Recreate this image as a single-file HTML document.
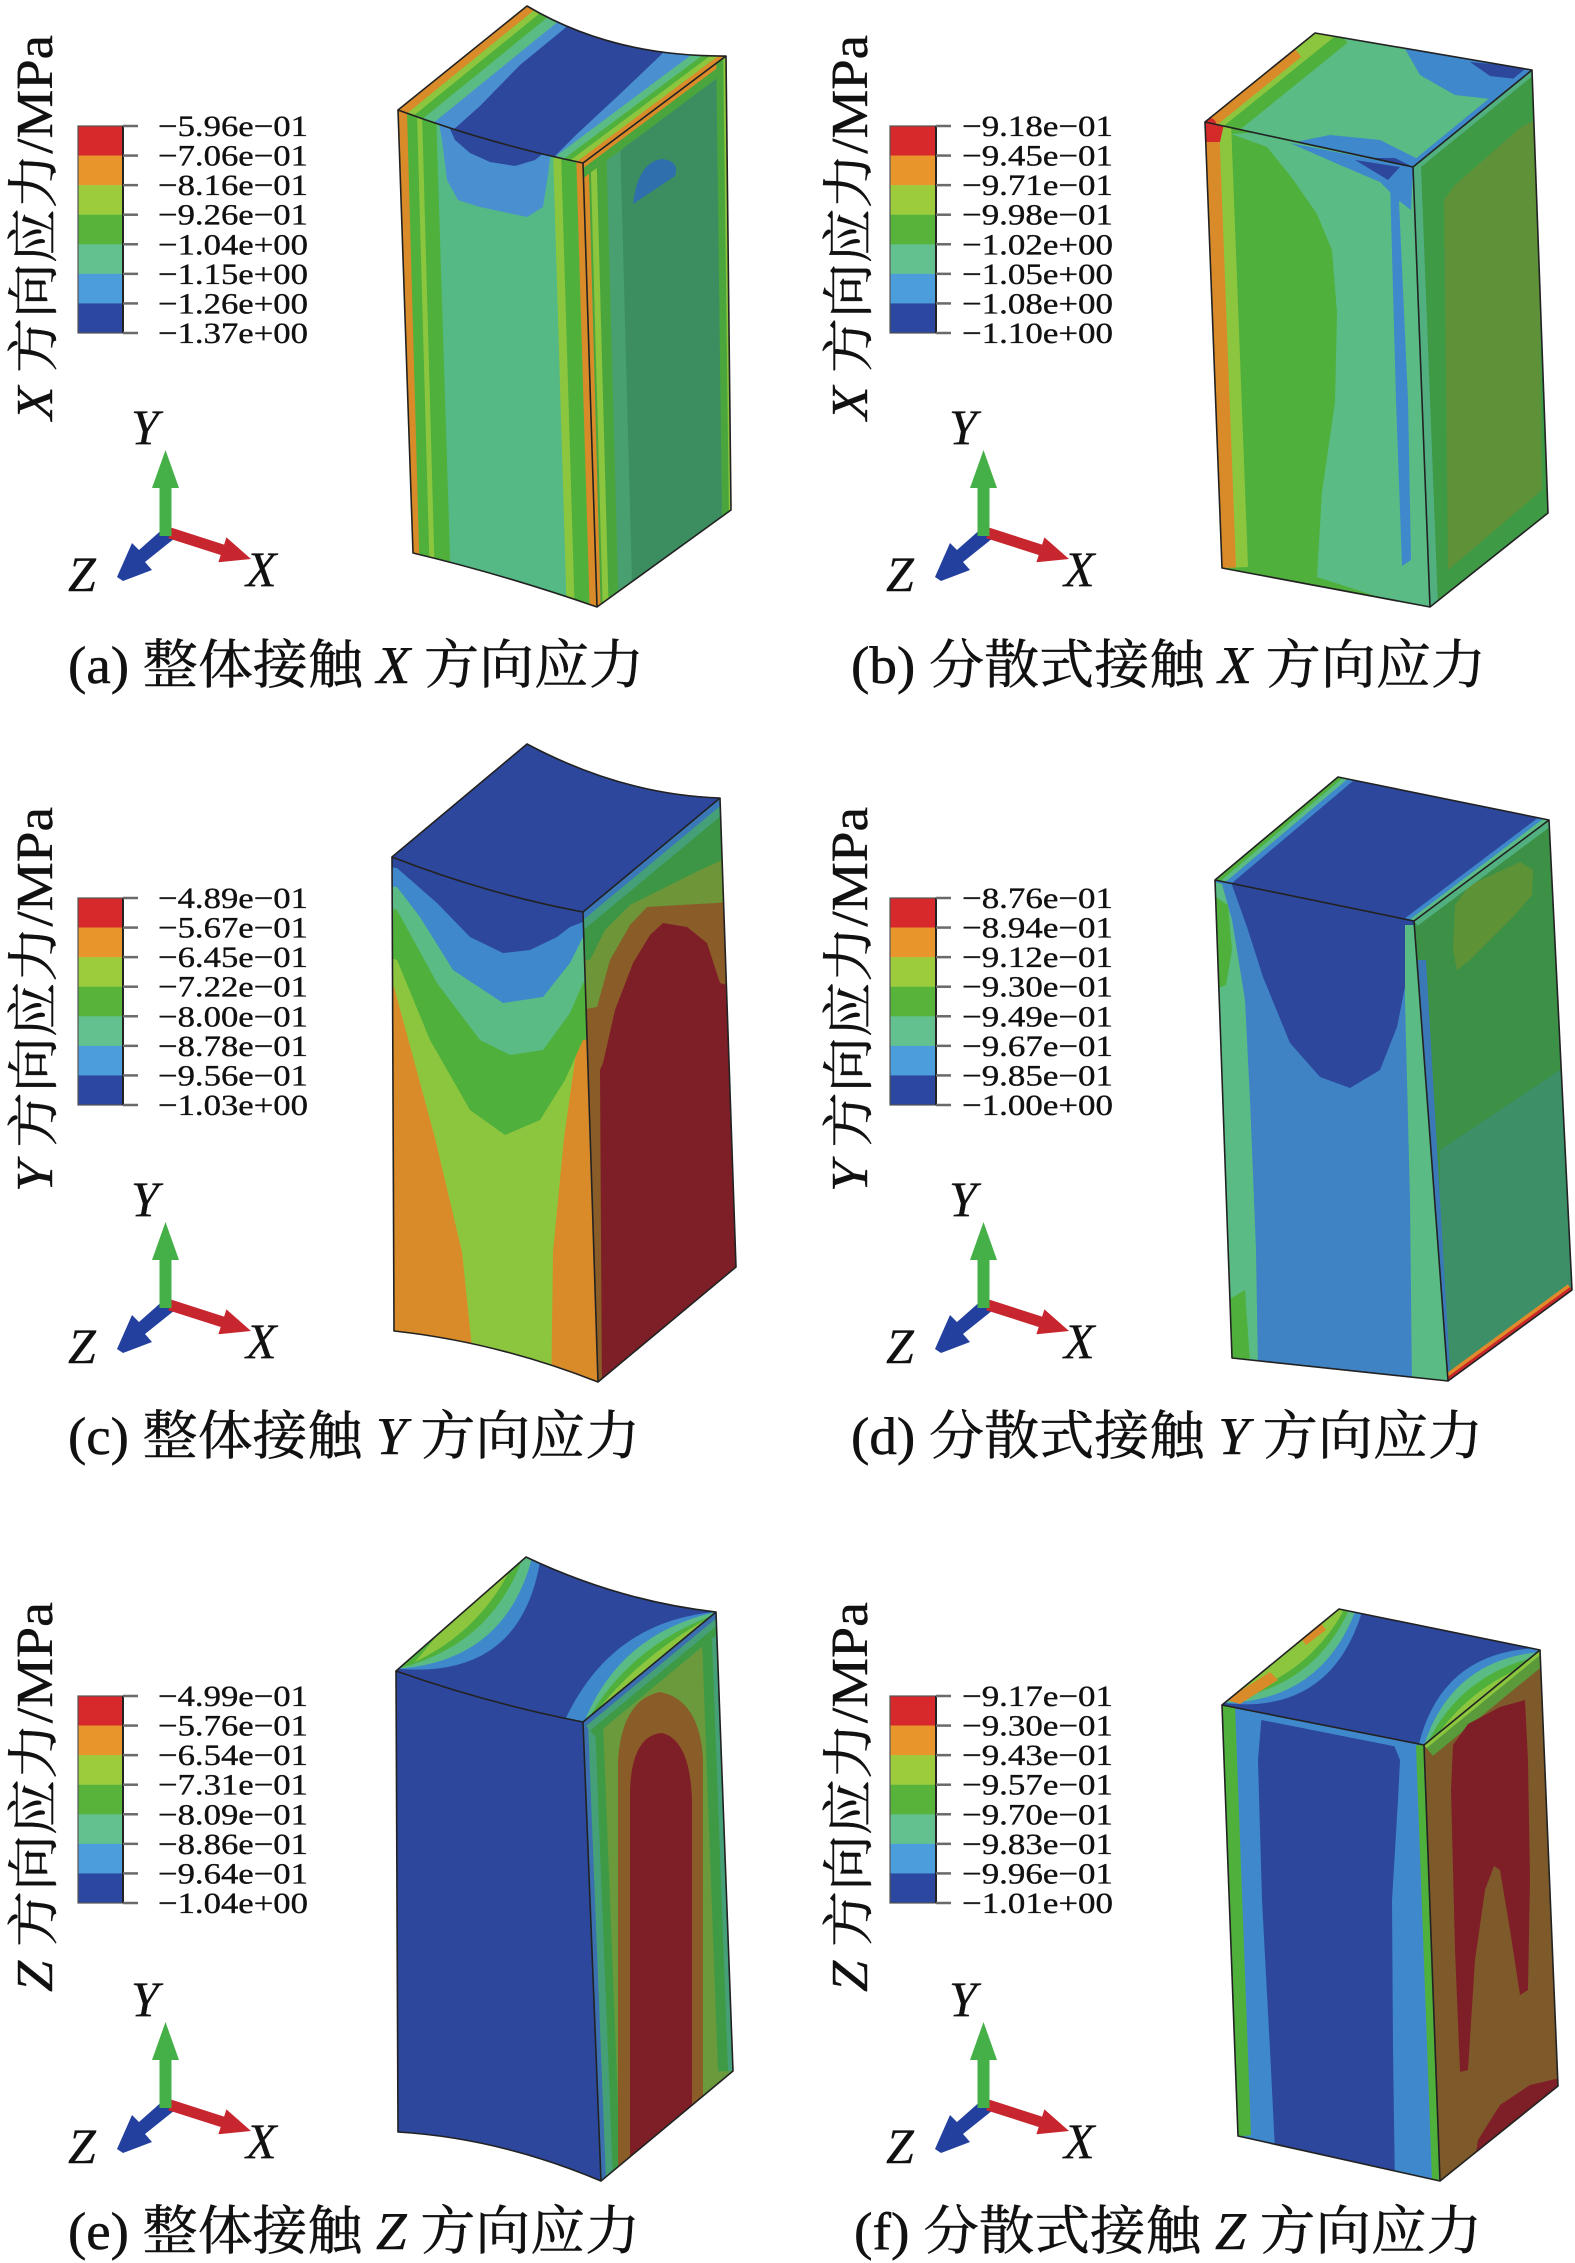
<!DOCTYPE html>
<html><head><meta charset="utf-8"><style>html,body{margin:0;padding:0;background:#fff}svg{display:block}</style></head>
<body>
<svg xmlns="http://www.w3.org/2000/svg" width="1575" height="2263" viewBox="0 0 1575 2263" font-family="'Liberation Serif','Noto Serif CJK SC',serif">
<rect width="1575" height="2263" fill="#fff"/>
<defs>
<clipPath id="aT"><path d="M398,110 L527,6 Q613,57 726,56 L583,163 Q490,144 398,110 Z"/></clipPath>
<clipPath id="aF"><path d="M398,110 Q490,144 583,163 L597,607 Q505,575 413,553 Z"/></clipPath>
<clipPath id="aS"><path d="M583,163 L726,56 L731,510 L597,607 Z"/></clipPath>
<clipPath id="bT"><path d="M1205,122 L1315,33 L1532,70 L1413,167 Z"/></clipPath>
<clipPath id="bF"><path d="M1205,122 L1413,167 L1430,607 L1222,568 Z"/></clipPath>
<clipPath id="bS"><path d="M1413,167 L1532,70 L1548,513 L1430,607 Z"/></clipPath>
<clipPath id="cT"><path d="M392,857 L527,744 Q623,795 720,798 L583,912 Q487,894 392,857 Z"/></clipPath>
<clipPath id="cF"><path d="M392,857 Q487,894 583,912 L598,1382 Q496,1342 394,1331 Z"/></clipPath>
<clipPath id="cS"><path d="M583,912 L720,798 L736,1267 L598,1382 Z"/></clipPath>
<clipPath id="dT"><path d="M1215,880 L1338,777 L1549,820 L1414,921 Z"/></clipPath>
<clipPath id="dF"><path d="M1215,880 L1414,921 L1448,1381 L1232,1358 Z"/></clipPath>
<clipPath id="dS"><path d="M1414,921 L1549,820 L1572,1290 L1448,1381 Z"/></clipPath>
<clipPath id="eT"><path d="M396,1671 L526,1557 Q619,1601 716,1612 L583,1722 Q490,1704 396,1671 Z"/></clipPath>
<clipPath id="eF"><path d="M396,1671 Q490,1704 583,1722 L601,2181 Q499,2138 398,2132 Z"/></clipPath>
<clipPath id="eS"><path d="M583,1722 L716,1612 L733,2071 L601,2181 Z"/></clipPath>
<clipPath id="fT"><path d="M1222,1705 L1339,1609 L1540,1650 L1424,1745 Z"/></clipPath>
<clipPath id="fF"><path d="M1222,1705 L1424,1745 L1440,2181 L1238,2136 Z"/></clipPath>
<clipPath id="fS"><path d="M1424,1745 L1540,1650 L1558,2086 L1440,2181 Z"/></clipPath>
</defs>

<!-- ================= LEGENDS ================= -->
<g transform="translate(78,126)">
<rect x="0" y="0" width="45" height="29.8" fill="#d7282b"/>
<rect x="0" y="29.57" width="45" height="29.8" fill="#e8962b"/>
<rect x="0" y="59.14" width="45" height="29.8" fill="#9ccb3b"/>
<rect x="0" y="88.71" width="45" height="29.8" fill="#58b33b"/>
<rect x="0" y="118.28" width="45" height="29.8" fill="#62c18e"/>
<rect x="0" y="147.85" width="45" height="29.8" fill="#4b9edb"/>
<rect x="0" y="177.42" width="45" height="29.58" fill="#2b479f"/>
<rect x="0" y="0" width="45" height="207" fill="none" stroke="#555" stroke-width="1.2"/>
<line x1="45" y1="0" x2="45" y2="207" stroke="#222" stroke-width="2"/>
<g stroke="#6a6a6a" stroke-width="2.5">
<line x1="45" y1="0" x2="60" y2="0"/><line x1="45" y1="29.57" x2="60" y2="29.57"/><line x1="45" y1="59.14" x2="60" y2="59.14"/><line x1="45" y1="88.71" x2="60" y2="88.71"/><line x1="45" y1="118.28" x2="60" y2="118.28"/><line x1="45" y1="147.85" x2="60" y2="147.85"/><line x1="45" y1="177.42" x2="60" y2="177.42"/><line x1="45" y1="207" x2="60" y2="207"/>
</g>
<g font-size="30" fill="#111" stroke="#111" stroke-width="0.35">
<text x="80" y="10" textLength="150" lengthAdjust="spacingAndGlyphs">−5.96e−01</text>
<text x="80" y="39.57" textLength="150" lengthAdjust="spacingAndGlyphs">−7.06e−01</text>
<text x="80" y="69.14" textLength="150" lengthAdjust="spacingAndGlyphs">−8.16e−01</text>
<text x="80" y="98.71" textLength="150" lengthAdjust="spacingAndGlyphs">−9.26e−01</text>
<text x="80" y="128.28" textLength="150" lengthAdjust="spacingAndGlyphs">−1.04e+00</text>
<text x="80" y="157.85" textLength="150" lengthAdjust="spacingAndGlyphs">−1.15e+00</text>
<text x="80" y="187.42" textLength="150" lengthAdjust="spacingAndGlyphs">−1.26e+00</text>
<text x="80" y="217" textLength="150" lengthAdjust="spacingAndGlyphs">−1.37e+00</text>
</g>
</g>

<g transform="translate(890,126)">
<rect x="0" y="0" width="46" height="29.8" fill="#d7282b"/>
<rect x="0" y="29.57" width="46" height="29.8" fill="#e8962b"/>
<rect x="0" y="59.14" width="46" height="29.8" fill="#9ccb3b"/>
<rect x="0" y="88.71" width="46" height="29.8" fill="#58b33b"/>
<rect x="0" y="118.28" width="46" height="29.8" fill="#62c18e"/>
<rect x="0" y="147.85" width="46" height="29.8" fill="#4b9edb"/>
<rect x="0" y="177.42" width="46" height="29.58" fill="#2b479f"/>
<rect x="0" y="0" width="46" height="207" fill="none" stroke="#555" stroke-width="1.2"/>
<line x1="46" y1="0" x2="46" y2="207" stroke="#222" stroke-width="2"/>
<g stroke="#6a6a6a" stroke-width="2.5">
<line x1="46" y1="0" x2="61" y2="0"/><line x1="46" y1="29.57" x2="61" y2="29.57"/><line x1="46" y1="59.14" x2="61" y2="59.14"/><line x1="46" y1="88.71" x2="61" y2="88.71"/><line x1="46" y1="118.28" x2="61" y2="118.28"/><line x1="46" y1="147.85" x2="61" y2="147.85"/><line x1="46" y1="177.42" x2="61" y2="177.42"/><line x1="46" y1="207" x2="61" y2="207"/>
</g>
<g font-size="30" fill="#111" stroke="#111" stroke-width="0.35">
<text x="72" y="10" textLength="151" lengthAdjust="spacingAndGlyphs">−9.18e−01</text>
<text x="72" y="39.57" textLength="151" lengthAdjust="spacingAndGlyphs">−9.45e−01</text>
<text x="72" y="69.14" textLength="151" lengthAdjust="spacingAndGlyphs">−9.71e−01</text>
<text x="72" y="98.71" textLength="151" lengthAdjust="spacingAndGlyphs">−9.98e−01</text>
<text x="72" y="128.28" textLength="151" lengthAdjust="spacingAndGlyphs">−1.02e+00</text>
<text x="72" y="157.85" textLength="151" lengthAdjust="spacingAndGlyphs">−1.05e+00</text>
<text x="72" y="187.42" textLength="151" lengthAdjust="spacingAndGlyphs">−1.08e+00</text>
<text x="72" y="217" textLength="151" lengthAdjust="spacingAndGlyphs">−1.10e+00</text>
</g>
</g>

<g transform="translate(78,898)">
<rect x="0" y="0" width="45" height="29.8" fill="#d7282b"/>
<rect x="0" y="29.57" width="45" height="29.8" fill="#e8962b"/>
<rect x="0" y="59.14" width="45" height="29.8" fill="#9ccb3b"/>
<rect x="0" y="88.71" width="45" height="29.8" fill="#58b33b"/>
<rect x="0" y="118.28" width="45" height="29.8" fill="#62c18e"/>
<rect x="0" y="147.85" width="45" height="29.8" fill="#4b9edb"/>
<rect x="0" y="177.42" width="45" height="29.58" fill="#2b479f"/>
<rect x="0" y="0" width="45" height="207" fill="none" stroke="#555" stroke-width="1.2"/>
<line x1="45" y1="0" x2="45" y2="207" stroke="#222" stroke-width="2"/>
<g stroke="#6a6a6a" stroke-width="2.5">
<line x1="45" y1="0" x2="60" y2="0"/><line x1="45" y1="29.57" x2="60" y2="29.57"/><line x1="45" y1="59.14" x2="60" y2="59.14"/><line x1="45" y1="88.71" x2="60" y2="88.71"/><line x1="45" y1="118.28" x2="60" y2="118.28"/><line x1="45" y1="147.85" x2="60" y2="147.85"/><line x1="45" y1="177.42" x2="60" y2="177.42"/><line x1="45" y1="207" x2="60" y2="207"/>
</g>
<g font-size="30" fill="#111" stroke="#111" stroke-width="0.35">
<text x="80" y="10" textLength="150" lengthAdjust="spacingAndGlyphs">−4.89e−01</text>
<text x="80" y="39.57" textLength="150" lengthAdjust="spacingAndGlyphs">−5.67e−01</text>
<text x="80" y="69.14" textLength="150" lengthAdjust="spacingAndGlyphs">−6.45e−01</text>
<text x="80" y="98.71" textLength="150" lengthAdjust="spacingAndGlyphs">−7.22e−01</text>
<text x="80" y="128.28" textLength="150" lengthAdjust="spacingAndGlyphs">−8.00e−01</text>
<text x="80" y="157.85" textLength="150" lengthAdjust="spacingAndGlyphs">−8.78e−01</text>
<text x="80" y="187.42" textLength="150" lengthAdjust="spacingAndGlyphs">−9.56e−01</text>
<text x="80" y="217" textLength="150" lengthAdjust="spacingAndGlyphs">−1.03e+00</text>
</g>
</g>

<g transform="translate(890,898)">
<rect x="0" y="0" width="46" height="29.8" fill="#d7282b"/>
<rect x="0" y="29.57" width="46" height="29.8" fill="#e8962b"/>
<rect x="0" y="59.14" width="46" height="29.8" fill="#9ccb3b"/>
<rect x="0" y="88.71" width="46" height="29.8" fill="#58b33b"/>
<rect x="0" y="118.28" width="46" height="29.8" fill="#62c18e"/>
<rect x="0" y="147.85" width="46" height="29.8" fill="#4b9edb"/>
<rect x="0" y="177.42" width="46" height="29.58" fill="#2b479f"/>
<rect x="0" y="0" width="46" height="207" fill="none" stroke="#555" stroke-width="1.2"/>
<line x1="46" y1="0" x2="46" y2="207" stroke="#222" stroke-width="2"/>
<g stroke="#6a6a6a" stroke-width="2.5">
<line x1="46" y1="0" x2="61" y2="0"/><line x1="46" y1="29.57" x2="61" y2="29.57"/><line x1="46" y1="59.14" x2="61" y2="59.14"/><line x1="46" y1="88.71" x2="61" y2="88.71"/><line x1="46" y1="118.28" x2="61" y2="118.28"/><line x1="46" y1="147.85" x2="61" y2="147.85"/><line x1="46" y1="177.42" x2="61" y2="177.42"/><line x1="46" y1="207" x2="61" y2="207"/>
</g>
<g font-size="30" fill="#111" stroke="#111" stroke-width="0.35">
<text x="72" y="10" textLength="151" lengthAdjust="spacingAndGlyphs">−8.76e−01</text>
<text x="72" y="39.57" textLength="151" lengthAdjust="spacingAndGlyphs">−8.94e−01</text>
<text x="72" y="69.14" textLength="151" lengthAdjust="spacingAndGlyphs">−9.12e−01</text>
<text x="72" y="98.71" textLength="151" lengthAdjust="spacingAndGlyphs">−9.30e−01</text>
<text x="72" y="128.28" textLength="151" lengthAdjust="spacingAndGlyphs">−9.49e−01</text>
<text x="72" y="157.85" textLength="151" lengthAdjust="spacingAndGlyphs">−9.67e−01</text>
<text x="72" y="187.42" textLength="151" lengthAdjust="spacingAndGlyphs">−9.85e−01</text>
<text x="72" y="217" textLength="151" lengthAdjust="spacingAndGlyphs">−1.00e+00</text>
</g>
</g>

<g transform="translate(78,1696)">
<rect x="0" y="0" width="45" height="29.8" fill="#d7282b"/>
<rect x="0" y="29.57" width="45" height="29.8" fill="#e8962b"/>
<rect x="0" y="59.14" width="45" height="29.8" fill="#9ccb3b"/>
<rect x="0" y="88.71" width="45" height="29.8" fill="#58b33b"/>
<rect x="0" y="118.28" width="45" height="29.8" fill="#62c18e"/>
<rect x="0" y="147.85" width="45" height="29.8" fill="#4b9edb"/>
<rect x="0" y="177.42" width="45" height="29.58" fill="#2b479f"/>
<rect x="0" y="0" width="45" height="207" fill="none" stroke="#555" stroke-width="1.2"/>
<line x1="45" y1="0" x2="45" y2="207" stroke="#222" stroke-width="2"/>
<g stroke="#6a6a6a" stroke-width="2.5">
<line x1="45" y1="0" x2="60" y2="0"/><line x1="45" y1="29.57" x2="60" y2="29.57"/><line x1="45" y1="59.14" x2="60" y2="59.14"/><line x1="45" y1="88.71" x2="60" y2="88.71"/><line x1="45" y1="118.28" x2="60" y2="118.28"/><line x1="45" y1="147.85" x2="60" y2="147.85"/><line x1="45" y1="177.42" x2="60" y2="177.42"/><line x1="45" y1="207" x2="60" y2="207"/>
</g>
<g font-size="30" fill="#111" stroke="#111" stroke-width="0.35">
<text x="80" y="10" textLength="150" lengthAdjust="spacingAndGlyphs">−4.99e−01</text>
<text x="80" y="39.57" textLength="150" lengthAdjust="spacingAndGlyphs">−5.76e−01</text>
<text x="80" y="69.14" textLength="150" lengthAdjust="spacingAndGlyphs">−6.54e−01</text>
<text x="80" y="98.71" textLength="150" lengthAdjust="spacingAndGlyphs">−7.31e−01</text>
<text x="80" y="128.28" textLength="150" lengthAdjust="spacingAndGlyphs">−8.09e−01</text>
<text x="80" y="157.85" textLength="150" lengthAdjust="spacingAndGlyphs">−8.86e−01</text>
<text x="80" y="187.42" textLength="150" lengthAdjust="spacingAndGlyphs">−9.64e−01</text>
<text x="80" y="217" textLength="150" lengthAdjust="spacingAndGlyphs">−1.04e+00</text>
</g>
</g>

<g transform="translate(890,1696)">
<rect x="0" y="0" width="46" height="29.8" fill="#d7282b"/>
<rect x="0" y="29.57" width="46" height="29.8" fill="#e8962b"/>
<rect x="0" y="59.14" width="46" height="29.8" fill="#9ccb3b"/>
<rect x="0" y="88.71" width="46" height="29.8" fill="#58b33b"/>
<rect x="0" y="118.28" width="46" height="29.8" fill="#62c18e"/>
<rect x="0" y="147.85" width="46" height="29.8" fill="#4b9edb"/>
<rect x="0" y="177.42" width="46" height="29.58" fill="#2b479f"/>
<rect x="0" y="0" width="46" height="207" fill="none" stroke="#555" stroke-width="1.2"/>
<line x1="46" y1="0" x2="46" y2="207" stroke="#222" stroke-width="2"/>
<g stroke="#6a6a6a" stroke-width="2.5">
<line x1="46" y1="0" x2="61" y2="0"/><line x1="46" y1="29.57" x2="61" y2="29.57"/><line x1="46" y1="59.14" x2="61" y2="59.14"/><line x1="46" y1="88.71" x2="61" y2="88.71"/><line x1="46" y1="118.28" x2="61" y2="118.28"/><line x1="46" y1="147.85" x2="61" y2="147.85"/><line x1="46" y1="177.42" x2="61" y2="177.42"/><line x1="46" y1="207" x2="61" y2="207"/>
</g>
<g font-size="30" fill="#111" stroke="#111" stroke-width="0.35">
<text x="72" y="10" textLength="151" lengthAdjust="spacingAndGlyphs">−9.17e−01</text>
<text x="72" y="39.57" textLength="151" lengthAdjust="spacingAndGlyphs">−9.30e−01</text>
<text x="72" y="69.14" textLength="151" lengthAdjust="spacingAndGlyphs">−9.43e−01</text>
<text x="72" y="98.71" textLength="151" lengthAdjust="spacingAndGlyphs">−9.57e−01</text>
<text x="72" y="128.28" textLength="151" lengthAdjust="spacingAndGlyphs">−9.70e−01</text>
<text x="72" y="157.85" textLength="151" lengthAdjust="spacingAndGlyphs">−9.83e−01</text>
<text x="72" y="187.42" textLength="151" lengthAdjust="spacingAndGlyphs">−9.96e−01</text>
<text x="72" y="217" textLength="151" lengthAdjust="spacingAndGlyphs">−1.01e+00</text>
</g>
</g>

<!-- ================= VERTICAL TITLES ================= -->
<g font-size="52" fill="#111" stroke="#111" stroke-width="0.4">
<text transform="translate(52,420) rotate(-90)" textLength="385" lengthAdjust="spacingAndGlyphs"><tspan font-style="italic">X</tspan> 方向应力/MPa</text>
<text transform="translate(867,420) rotate(-90)" textLength="385" lengthAdjust="spacingAndGlyphs"><tspan font-style="italic">X</tspan> 方向应力/MPa</text>
<text transform="translate(52,1192) rotate(-90)" textLength="385" lengthAdjust="spacingAndGlyphs"><tspan font-style="italic">Y</tspan> 方向应力/MPa</text>
<text transform="translate(867,1192) rotate(-90)" textLength="385" lengthAdjust="spacingAndGlyphs"><tspan font-style="italic">Y</tspan> 方向应力/MPa</text>
<text transform="translate(52,1992) rotate(-90)" textLength="390" lengthAdjust="spacingAndGlyphs"><tspan font-style="italic">Z</tspan> 方向应力/MPa</text>
<text transform="translate(867,1992) rotate(-90)" textLength="390" lengthAdjust="spacingAndGlyphs"><tspan font-style="italic">Z</tspan> 方向应力/MPa</text>
</g>

<!-- ================= TRIADS ================= -->
<g id="triad">
<polygon points="175,538 165,527 139,550 132,543 117,577 123,581 152,570 145,562" fill="#23409e"/>
<polygon points="168.3,538.2 171.7,527.8 224.1,544.6 226.4,537.4 251,559 218.4,562.2 220.7,555" fill="#c8262e"/>
<rect x="159.5" y="484" width="12" height="52" fill="#45b048"/>
<polygon points="165.5,450 152,488 179,488" fill="#45b048"/>
<g font-size="50" font-style="italic" fill="#111" stroke="#111" stroke-width="0.3">
<text x="131" y="444">Y</text>
<text x="246" y="586">X</text>
<text x="68" y="591">Z</text>
</g>
</g>
<use href="#triad" transform="translate(818,0)"/>
<use href="#triad" transform="translate(0,772)"/>
<use href="#triad" transform="translate(818,772)"/>
<use href="#triad" transform="translate(0,1572)"/>
<use href="#triad" transform="translate(818,1572)"/>

<!-- ================= CAPTIONS ================= -->
<g font-size="53" fill="#111" stroke="#111" stroke-width="0.5">
<text x="68" y="683" textLength="576" lengthAdjust="spacingAndGlyphs">(a) 整体接触 <tspan font-style="italic">X</tspan> 方向应力</text>
<text x="851" y="683" textLength="635" lengthAdjust="spacingAndGlyphs">(b) 分散式接触 <tspan font-style="italic">X</tspan> 方向应力</text>
<text x="68" y="1454" textLength="572" lengthAdjust="spacingAndGlyphs">(c) 整体接触 <tspan font-style="italic">Y</tspan> 方向应力</text>
<text x="851" y="1454" textLength="632" lengthAdjust="spacingAndGlyphs">(d) 分散式接触 <tspan font-style="italic">Y</tspan> 方向应力</text>
<text x="68" y="2249" textLength="572" lengthAdjust="spacingAndGlyphs">(e) 整体接触 <tspan font-style="italic">Z</tspan> 方向应力</text>
<text x="854" y="2249" textLength="628" lengthAdjust="spacingAndGlyphs">(f) 分散式接触 <tspan font-style="italic">Z</tspan> 方向应力</text>
</g>

<!-- ================= BOX A ================= -->
<g clip-path="url(#aT)">
<rect x="380" y="0" width="360" height="180" fill="#4a90d0"/>
<path d="M570,24 L520,65 L480,106 L453,130 L470,150 L543,168 L577,134 L620,94 L663,53 L620,40 Z" fill="#2c479c"/>
<g fill="none">
<path d="M380,125 L545,-9" stroke="#5abb85" stroke-width="64"/>
<path d="M380,125 L545,-9" stroke="#4fb03c" stroke-width="44"/>
<path d="M380,125 L545,-9" stroke="#8cc63f" stroke-width="28"/>
<path d="M380,125 L545,-9" stroke="#d98b2a" stroke-width="16"/>
<path d="M570,173 L740,46" stroke="#5abb85" stroke-width="44"/>
<path d="M570,173 L740,46" stroke="#4fb03c" stroke-width="30"/>
<path d="M570,173 L740,46" stroke="#8cc63f" stroke-width="20"/>
<path d="M570,173 L740,46" stroke="#d98b2a" stroke-width="10"/>
</g>
</g>
<g clip-path="url(#aF)">
<rect x="380" y="100" width="230" height="520" fill="#54b985"/>
<path d="M380,100 L436,112 L452,620 L380,620 Z" fill="#4fb03c"/>
<path d="M380,100 L422,112 L436,620 L380,620 Z" fill="#8cc63f"/>
<path d="M380,100 L417,112 L431,620 L380,620 Z" fill="#4fb03c"/>
<path d="M380,100 L407,112 L421,620 L380,620 Z" fill="#d98b2a"/>
<path d="M553,150 L620,150 L620,620 L567,620 Z" fill="#8cc63f"/>
<path d="M561,150 L620,150 L620,620 L575,620 Z" fill="#4fb03c"/>
<path d="M576,150 L620,150 L620,620 L590,620 Z" fill="#d98b2a"/>
<path d="M438,118 L442,140 L447,180 L458,200 L480,207 L527,217 L543,207 L548,175 L552,140 L555,118 Z" fill="#4a90d0"/>
<path d="M445,118 L455,140 L470,153 L490,162 L515,166 L535,160 L550,148 L560,135 L560,118 Z" fill="#2c479c"/>
</g>
<g clip-path="url(#aS)">
<rect x="570" y="40" width="170" height="580" fill="#3c8e60"/>
<path d="M560,100 L619,100 L633,620 L574,620 Z" fill="#48a070"/>
<path d="M560,100 L605,100 L619,620 L574,620 Z" fill="#4aa63c"/>
<path d="M589,100 L595,100 L609,620 L603,620 Z" fill="#8cc63f"/>
<path d="M560,100 L587,100 L601,620 L574,620 Z" fill="#d98b2a"/>
<path d="M570,173 L740,46" stroke="#4aa63c" stroke-width="24" fill="none"/>
<path d="M570,173 L740,46" stroke="#d98b2a" stroke-width="8" fill="none"/>
<path d="M726,40 L732,520" stroke="#4aa63c" stroke-width="20" fill="none"/>
<path d="M726,40 L732,520" stroke="#8cc63f" stroke-width="6" fill="none"/>
<path d="M633,204 Q638,162 662,159 Q680,161 675,176 Z" fill="#2f6fae"/>
</g>
<g fill="none" stroke="#222" stroke-width="1.6" stroke-linejoin="round">
<path d="M398,110 L527,6 Q613,57 726,56 L583,163 Q490,144 398,110 Z"/>
<path d="M398,110 L413,553 Q505,575 597,607 L583,163"/>
<path d="M597,607 L731,510 L726,56"/>
</g>

<!-- ================= BOX B ================= -->
<g clip-path="url(#bT)">
<rect x="1200" y="25" width="350" height="150" fill="#5abb85"/>
<path d="M1190,134 L1330,21" stroke="#4fb03c" stroke-width="56" fill="none"/>
<path d="M1190,134 L1330,21" stroke="#8cc63f" stroke-width="30" fill="none"/>
<path d="M1190,134 L1295,49" stroke="#d98b2a" stroke-width="20" fill="none"/>
<path d="M1400,40 L1540,60 L1535,85 L1500,100 L1455,95 L1420,75 Z" fill="#3f88cc"/>
<path d="M1470,62 L1535,68 L1525,80 L1490,76 Z" fill="#2c479c"/>
<path d="M1400,178 L1545,59" stroke="#3f88cc" stroke-width="10" fill="none"/>
<path d="M1290,143 L1330,135 L1380,140 L1420,160 L1413,170 Z" fill="#3f88cc"/>
<path d="M1355,158 L1395,158 L1413,167 L1385,168 Z" fill="#2c479c"/>
<circle cx="1210" cy="124" r="6" fill="#d42a2a"/>
</g>
<g clip-path="url(#bF)">
<rect x="1200" y="115" width="240" height="500" fill="#4fb03c"/>
<path d="M1231,134 L1267,147 L1292,178 L1317,214 L1332,250 L1337,313 L1335,402 L1322,492 L1317,577 L1450,620 L1450,120 Z" fill="#5abb85"/>
<path d="M1205,122 L1222,568" stroke="#8cc63f" stroke-width="52" fill="none"/>
<path d="M1205,122 L1222,568" stroke="#d98b2a" stroke-width="28" fill="none"/>
<path d="M1205,122 L1224,124 L1220,142 L1206,142 Z" fill="#d42a2a"/>
<path d="M1390,180 L1398,180 L1408,400 L1411,560 L1402,566 L1396,400 Z" fill="#3f88cc"/>
<path d="M1290,143 L1413,167 L1411,210 L1398,200 L1380,182 L1340,165 Z" fill="#3f88cc"/>
<path d="M1355,160 L1400,167 L1388,180 Z" fill="#2c479c"/>
</g>
<g clip-path="url(#bS)">
<rect x="1405" y="60" width="150" height="555" fill="#3f9a45"/>
<path d="M1444,200 L1455,185 L1520,128 L1538,118 L1542,490 L1448,570 Z" fill="#5f9138"/>
<path d="M1413,167 L1430,607" stroke="#52b080" stroke-width="16" fill="none"/>
<path d="M1413,167 L1532,70" stroke="#52b080" stroke-width="10" fill="none"/>
</g>
<g fill="none" stroke="#222" stroke-width="1.6" stroke-linejoin="round">
<path d="M1205,122 L1315,33 L1532,70 L1413,167 Z"/>
<path d="M1205,122 L1222,568 L1430,607 L1413,167"/>
<path d="M1430,607 L1548,513 L1532,70"/>
</g>

<!-- ================= BOX C ================= -->
<g clip-path="url(#cT)">
<rect x="385" y="740" width="340" height="180" fill="#2c479c"/>
</g>
<g clip-path="url(#cF)">
<rect x="380" y="850" width="230" height="540" fill="#8cc63f"/>
<path d="M380,980 L394,987 L435,1138 L462,1252 L473,1358 L473,1400 L380,1400 Z" fill="#d98b2a"/>
<path d="M610,1000 L583,1005 L575,1060 L564,1138 L553,1252 L551,1400 L610,1400 Z" fill="#d98b2a"/>
<path d="M380,850 L610,850 L610,1035 L583,1040 L565,1080 L540,1120 L505,1135 L470,1110 L430,1040 L397,960 L380,955 Z" fill="#4fb03c"/>
<path d="M380,850 L610,850 L610,983 L583,983 L570,1013 L543,1050 L510,1055 L480,1040 L437,983 L397,910 L380,905 Z" fill="#5abb85"/>
<path d="M380,850 L610,850 L610,937 L583,937 L570,963 L543,997 L503,1003 L453,970 L420,917 L397,887 L380,885 Z" fill="#3f88cc"/>
<path d="M380,850 L610,850 L610,922 L583,922 L570,927 L557,937 L530,950 L503,953 L470,937 L437,903 L397,868 L380,866 Z" fill="#2c479c"/>
</g>
<g clip-path="url(#cS)">
<rect x="575" y="790" width="170" height="600" fill="#3c9645"/>
<path d="M580,960 L590,960 L605,930 L630,905 L660,890 L700,870 L745,850 L745,1400 L580,1400 Z" fill="#6e9538"/>
<path d="M580,1010 L597,1007 L610,960 L630,925 L647,907 L680,905 L717,903 L745,900 L745,1400 L580,1400 Z" fill="#8a5c28"/>
<path d="M600,1070 L603,1063 L615,1010 L633,963 L650,935 L663,923 L687,927 L707,943 L720,983 L745,990 L745,1400 L602,1400 Z" fill="#7e1f27"/>
<path d="M570,923 L735,786" stroke="#45a078" stroke-width="28" fill="none"/>
<path d="M570,923 L735,786" stroke="#3b78b8" stroke-width="12" fill="none"/>
</g>
<g fill="none" stroke="#222" stroke-width="1.6" stroke-linejoin="round">
<path d="M392,857 L527,744 Q623,795 720,798 L583,912 Q487,894 392,857 Z"/>
<path d="M392,857 L394,1331 Q496,1342 598,1382 L583,912"/>
<path d="M598,1382 L736,1267 L720,798"/>
</g>

<!-- ================= BOX D ================= -->
<g clip-path="url(#dT)">
<rect x="1210" y="770" width="345" height="160" fill="#2c479c"/>
<path d="M1200,893 L1353,764" stroke="#3f88cc" stroke-width="26" fill="none"/>
<path d="M1200,893 L1353,764" stroke="#5abb85" stroke-width="16" fill="none"/>
<path d="M1200,893 L1353,764" stroke="#4fb03c" stroke-width="8" fill="none"/>
<path d="M1400,932 L1563,809" stroke="#3f88cc" stroke-width="16" fill="none"/>
<path d="M1400,932 L1563,809" stroke="#5abb85" stroke-width="8" fill="none"/>
</g>
<g clip-path="url(#dF)">
<rect x="1200" y="870" width="255" height="520" fill="#3f83c5"/>
<path d="M1232,860 L1420,900 L1414,927 L1407,977 L1397,1027 L1380,1070 L1350,1088 L1320,1077 L1290,1043 L1263,977 L1247,927 L1232,885 Z" fill="#2c479c"/>
<path d="M1200,878 L1222,884 L1232,920 L1245,1000 L1250,1100 L1256,1250 L1258,1370 L1200,1370 Z" fill="#5abb85"/>
<path d="M1213,895 L1228,905 L1232,950 L1226,985 L1213,990 Z" fill="#4fb03c"/>
<path d="M1228,1300 L1245,1290 L1250,1362 L1232,1362 Z" fill="#4fb03c"/>
<path d="M1405,925 L1430,925 L1460,1390 L1412,1390 L1410,1200 L1405,1000 Z" fill="#5abb85"/>
</g>
<g clip-path="url(#dS)">
<rect x="1405" y="810" width="170" height="580" fill="#3c9146"/>
<path d="M1440,1150 L1575,1060 L1575,1400 L1440,1400 Z" fill="#3d8f68"/>
<path d="M1455,905 L1470,885 L1520,862 L1533,870 L1532,895 L1515,915 L1470,960 L1457,970 L1453,950 Z" fill="#5e9236"/>
<path d="M1418,960 L1426,960 L1450,1370 L1440,1378 Z" fill="#3b78b8"/>
<path d="M1414,921 L1549,820" stroke="#52b080" stroke-width="12" fill="none"/>
<path d="M1448,1381 L1572,1290" stroke="#e08a2a" stroke-width="14" fill="none"/>
<path d="M1448,1381 L1572,1290" stroke="#c8282a" stroke-width="7" fill="none"/>
</g>
<g fill="none" stroke="#222" stroke-width="1.6" stroke-linejoin="round">
<path d="M1215,880 L1338,777 L1549,820 L1414,921 Z"/>
<path d="M1215,880 L1232,1358 L1448,1381 L1414,921"/>
<path d="M1448,1381 L1572,1290 L1549,820"/>
</g>

<!-- ================= BOX E ================= -->
<g clip-path="url(#eT)">
<rect x="390" y="1550" width="335" height="180" fill="#2c479c"/>
<path d="M390,1668 Q519,1683 540,1562 L520,1545 Z" fill="#3f88cc"/>
<path d="M392,1669 Q504,1664 532,1558 L520,1545 Z" fill="#5abb85"/>
<path d="M400,1668 Q490,1645 522,1560 L520,1545 Z" fill="#4fb03c"/>
<path d="M415,1662 Q479,1631 510,1570 L500,1560 Z" fill="#8cc63f"/>
<path d="M565,1720 Q611,1621 716,1612 L740,1640 L600,1740 Z" fill="#3f88cc"/>
<path d="M585,1720 Q621,1633 716,1612 L740,1640 L600,1740 Z" fill="#5abb85"/>
<path d="M590,1716 Q632,1645 716,1614 L740,1640 L600,1740 Z" fill="#4fb03c"/>
<path d="M598,1710 Q640,1656 712,1616 L740,1640 L600,1740 Z" fill="#8cc63f"/>
</g>
<g clip-path="url(#eF)">
<rect x="390" y="1660" width="220" height="530" fill="#2c479c"/>
</g>
<g clip-path="url(#eS)">
<rect x="575" y="1600" width="165" height="590" fill="#6a9a3c"/>
<path d="M583,1722 L601,2181" stroke="#3f9a45" stroke-width="40" fill="none"/>
<path d="M583,1722 L601,2181" stroke="#45a078" stroke-width="24" fill="none"/>
<path d="M583,1722 L601,2181" stroke="#3b6fb0" stroke-width="10" fill="none"/>
<path d="M716,1612 L733,2071" stroke="#3f9a45" stroke-width="30" fill="none"/>
<path d="M716,1612 L733,2071" stroke="#45a078" stroke-width="10" fill="none"/>
<path d="M583,1722 L716,1612" stroke="#3f9a45" stroke-width="36" fill="none"/>
<path d="M583,1722 L716,1612" stroke="#45a078" stroke-width="22" fill="none"/>
<path d="M583,1722 L716,1612" stroke="#3b6fb0" stroke-width="10" fill="none"/>
<path d="M618,2200 L618,1760 Q622,1700 660,1692 Q700,1700 703,1760 L703,2200 Z" fill="#8a5c28"/>
<path d="M630,2200 L630,1790 Q632,1735 662,1733 Q690,1740 692,1800 L692,2200 Z" fill="#7e1f27"/>
</g>
<g fill="none" stroke="#222" stroke-width="1.6" stroke-linejoin="round">
<path d="M396,1671 L526,1557 Q619,1601 716,1612 L583,1722 Q490,1704 396,1671 Z"/>
<path d="M396,1671 L398,2132 Q499,2138 601,2181 L583,1722"/>
<path d="M601,2181 L733,2071 L716,1612"/>
</g>

<!-- ================= BOX F ================= -->
<g clip-path="url(#fT)">
<rect x="1215" y="1600" width="335" height="150" fill="#2c479c"/>
<path d="M1215,1702 Q1329,1719 1362,1612 L1340,1590 Z" fill="#3f88cc"/>
<path d="M1218,1703 Q1319,1704 1355,1612 L1340,1590 Z" fill="#5abb85"/>
<path d="M1222,1700 Q1311,1690 1348,1612 L1340,1590 Z" fill="#4fb03c"/>
<path d="M1226,1698 Q1304,1680 1343,1612 L1335,1595 Z" fill="#8cc63f"/>
<path d="M1226,1700 L1270,1672 L1278,1680 L1240,1704 Z" fill="#d98b2a"/>
<path d="M1300,1637 L1320,1622 L1326,1630 L1306,1645 Z" fill="#d98b2a"/>
<path d="M1418,1748 Q1441,1648 1545,1648 L1560,1670 L1440,1760 Z" fill="#3f88cc"/>
<path d="M1424,1745 Q1452,1660 1540,1652 L1560,1670 L1440,1760 Z" fill="#5abb85"/>
<path d="M1428,1742 Q1462,1673 1540,1656 L1560,1670 L1440,1760 Z" fill="#4fb03c"/>
<path d="M1434,1740 Q1471,1684 1540,1660 L1560,1670 L1440,1760 Z" fill="#8cc63f"/>
</g>
<g clip-path="url(#fF)">
<rect x="1215" y="1700" width="235" height="490" fill="#2c479c"/>
<path d="M1222,1705 L1424,1745" stroke="#3f88cc" stroke-width="14" fill="none"/>
<path d="M1215,1700 L1262,1712 L1258,1760 L1262,1900 L1270,2050 L1275,2150 L1215,2150 Z" fill="#3f88cc"/>
<path d="M1222,1705 L1238,2136" stroke="#4fb03c" stroke-width="26" fill="none"/>
<path d="M1392,1740 L1400,1760 L1398,1800 L1392,1900 L1393,2050 L1395,2190 L1450,2190 L1450,1740 Z" fill="#3f88cc"/>
<path d="M1424,1745 L1440,2181" stroke="#4fb03c" stroke-width="16" fill="none"/>
</g>
<g clip-path="url(#fS)">
<rect x="1415" y="1640" width="150" height="550" fill="#7e5a2a"/>
<path d="M1424,1745 L1540,1650" stroke="#5a9a3a" stroke-width="28" fill="none"/>
<path d="M1424,1745 L1540,1650" stroke="#8cc63f" stroke-width="8" fill="none"/>
<path d="M1451,1790 L1453,1745 L1468,1724 L1500,1707 L1525,1700 L1528,1760 L1530,1880 L1528,1990 L1520,1995 L1510,1930 L1500,1870 L1494,1866 L1485,1890 L1475,1960 L1468,2070 L1460,2072 L1455,1950 Z" fill="#7e1f27"/>
<path d="M1470,2190 L1478,2140 L1500,2105 L1530,2085 L1560,2078 L1565,2190 Z" fill="#7e1f27"/>
</g>
<g fill="none" stroke="#222" stroke-width="1.6" stroke-linejoin="round">
<path d="M1222,1705 L1339,1609 L1540,1650 L1424,1745 Z"/>
<path d="M1222,1705 L1238,2136 L1440,2181 L1424,1745"/>
<path d="M1440,2181 L1558,2086 L1540,1650"/>
</g>
</svg>
</body></html>
